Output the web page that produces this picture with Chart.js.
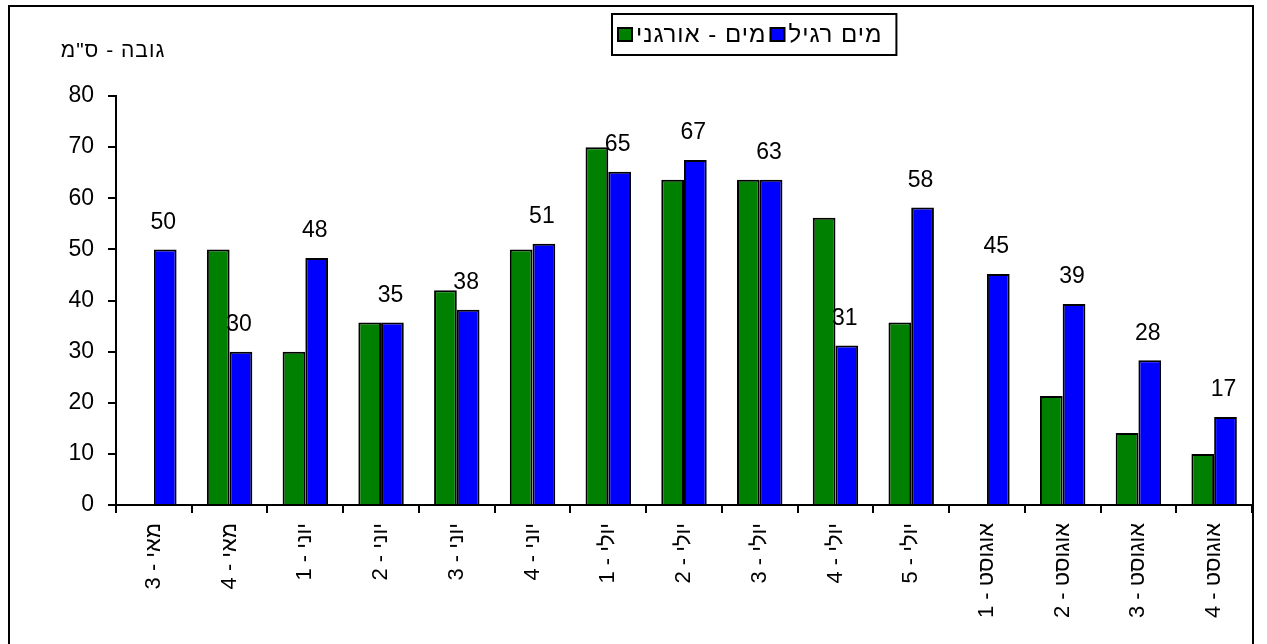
<!DOCTYPE html>
<html lang="he">
<head>
<meta charset="utf-8">
<title>גובה - ס"מ</title>
<script src="https://cdn.jsdelivr.net/npm/chart.js@4.4.1/dist/chart.umd.min.js"></script>
<style>
  html, body { margin: 0; padding: 0; background: #fff; }
  #wrap { position: relative; width: 1267px; height: 644px; overflow: hidden; }
  #frame { position: absolute; left: 8px; top: 5px; width: 1246px; height: 700px; border: 2px solid #000; box-sizing: border-box; }
  #chart { position: absolute; left: 0; top: 0; }
</style>
</head>
<body>
<div id="wrap">
  <div id="frame"></div>
  <canvas id="chart" width="1267" height="644"></canvas>
</div>
<script>
// weeks (x categories)
const weeks = ['מאי - 3', 'מאי - 4', 'יוני - 1', 'יוני - 2', 'יוני - 3', 'יוני - 4',
  'יולי - 1', 'יולי - 2', 'יולי - 3', 'יולי - 4', 'יולי - 5',
  'אוגוסט - 1', 'אוגוסט - 2', 'אוגוסט - 3', 'אוגוסט - 4'];

const organicLabel = 'מים - אורגני';
const regularLabel = 'מים רגיל';

// heights in cm
const organic = [null, 50, 30, 35.7, 42, 50, 70, 63.6, 63.6, 56.2, 35.7, null, 21.3, 14.1, 10];
const regular = [50, 30, 48.3, 35.7, 38.2, 51.1, 65.2, 67.5, 63.6, 31.2, 58.2, 45.2, 39.3, 28.3, 17.2];

const yTicks = [0, 10, 20, 30, 40, 50, 60, 70, 80];
const yTitle = 'גובה - ס"מ';

const FONT = "'Liberation Sans', Arial, sans-serif";

// value labels above the blue bars
const valueLabels = {
  id: 'valueLabels',
  afterDatasetsDraw(chart) {
    const meta = chart.getDatasetMeta(1);
    const ctx = chart.ctx;
    ctx.save();
    ctx.font = '23px ' + FONT;
    ctx.fillStyle = '#000';
    ctx.textAlign = 'center';
    ctx.textBaseline = 'middle';
    meta.data.forEach((bar, i) => {
      const v = chart.data.datasets[1].data[i];
      if (v == null) return;
      ctx.fillText(String(Math.floor(v)), bar.x - 2, bar.y - 27);
    });
    ctx.restore();
  }
};

// boxed legend at the top + y title
const boxLegend = {
  id: 'boxLegend',
  afterDraw(chart) {
    const ctx = chart.ctx;
    ctx.save();
    ctx.font = '24px ' + FONT;
    ctx.letterSpacing = '1px';
    ctx.textBaseline = 'middle';
    ctx.textAlign = 'left';
    let x = 618;
    const cy = 35;
    chart.data.datasets.forEach(ds => {
      ctx.fillStyle = ds.backgroundColor;
      ctx.fillRect(x, cy - 7, 14, 13);
      ctx.lineWidth = 2;
      ctx.strokeStyle = '#000';
      ctx.strokeRect(x, cy - 7, 14, 13);
      x += 18;
      ctx.fillStyle = '#000';
      ctx.fillText(ds.label, x, cy);
      x += ctx.measureText(ds.label).width + 4;
    });
    ctx.lineWidth = 2;
    ctx.strokeRect(612, 14, x + 10 - 612, 41);

    ctx.font = '21px ' + FONT;
    ctx.textAlign = 'center';
    ctx.fillText(yTitle, 113, 51);
    ctx.restore();
  }
};

new Chart(document.getElementById('chart'), {
  type: 'bar',
  data: {
    labels: weeks,
    datasets: [
      { label: organicLabel, data: organic, backgroundColor: '#008000', borderColor: '#000', borderWidth: 2 },
      { label: regularLabel, data: regular, backgroundColor: '#0000ff', borderColor: '#000', borderWidth: 2 }
    ]
  },
  options: {
    responsive: false,
    animation: false,
    events: [],
    datasets: { bar: { categoryPercentage: 0.6, barPercentage: 1.0 } },
    layout: { padding: { top: 96, right: 15, left: 0, bottom: 0 } },
    plugins: { legend: { display: false }, tooltip: { enabled: false } },
    scales: {
      x: {
        grid: { drawOnChartArea: false, drawTicks: true, tickLength: 8, color: '#000', lineWidth: 2, offset: true },
        border: { display: true, color: '#000', width: 2 },
        ticks: { autoSkip: false, maxRotation: 90, minRotation: 90, padding: 10, color: '#000', font: { family: FONT, size: 22 } },
        afterFit: s => { s.height = 139; }
      },
      y: {
        min: 0, max: 80,
        afterBuildTicks: s => { s.ticks = yTicks.map(v => ({ value: v })); },
        grid: { drawOnChartArea: false, drawTicks: true, tickLength: 8, color: '#000', lineWidth: 2 },
        border: { display: true, color: '#000', width: 2 },
        ticks: { padding: 14, color: '#000', font: { family: FONT, size: 23 } },
        afterFit: s => { s.width = 116; }
      }
    }
  },
  plugins: [valueLabels, boxLegend]
});
</script>
</body>
</html>
